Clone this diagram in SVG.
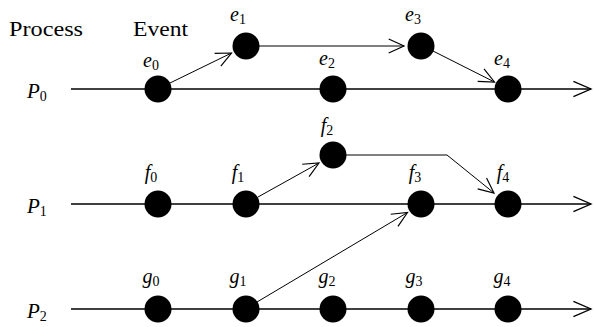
<svg xmlns="http://www.w3.org/2000/svg" width="594" height="327" viewBox="0 0 594 327" font-family="Liberation Serif, Times New Roman, Times, serif">
<style>
  .hdr { font-size: 22px; }
  .lbl { font-size: 20px; text-anchor: middle; }
  .plbl { font-size: 21px; }
  .it { font-style: italic; }
  .sub { font-size: 14px; font-style: normal; }
  .node { fill: #000; }
  .time { stroke: #000; stroke-width: 1.4; fill: none; }
  .msg { stroke: #000; stroke-width: 1; fill: none; marker-end: url(#ah); }
</style>
<defs>
  <marker id="ah" markerUnits="userSpaceOnUse" markerWidth="20" markerHeight="20" viewBox="-15 -8 17 16" refX="0" refY="0" orient="auto" overflow="visible">
    <path d="M-13,-6 L0,0 L-13,6" fill="none" stroke="#000" stroke-width="1"/>
  </marker>
  <marker id="ahBig" markerUnits="userSpaceOnUse" markerWidth="22" markerHeight="20" viewBox="-18 -9 20 18" refX="0" refY="0" orient="auto" overflow="visible">
    <path d="M-16,-7 L0,0 L-16,7" fill="none" stroke="#000" stroke-width="1.2"/>
  </marker>
</defs>
<rect width="594" height="327" fill="#fff"/>

<g id="headers">
  <text class="hdr" x="9" y="36" font-family="Liberation Serif" textLength="74" lengthAdjust="spacingAndGlyphs">Process</text>
  <text class="hdr" x="133" y="36" font-family="Liberation Serif" textLength="55" lengthAdjust="spacingAndGlyphs">Event</text>
</g>

<g id="process-P0">
  <line class="time" x1="71" y1="89" x2="591" y2="89" marker-end="url(#ahBig)"/>
  <text class="plbl" x="27" y="98"><tspan class="it">P</tspan><tspan class="sub" dy="3">0</tspan></text>
</g>
<g id="process-P1">
  <line class="time" x1="71" y1="204" x2="591" y2="204" marker-end="url(#ahBig)"/>
  <text class="plbl" x="27" y="213"><tspan class="it">P</tspan><tspan class="sub" dy="3">1</tspan></text>
</g>
<g id="process-P2">
  <line class="time" x1="71" y1="309" x2="591" y2="309" marker-end="url(#ahBig)"/>
  <text class="plbl" x="27" y="318"><tspan class="it">P</tspan><tspan class="sub" dy="3">2</tspan></text>
</g>

<g id="connectors">
  <line class="msg" x1="170" y1="83" x2="231.5" y2="53"/>
  <line class="msg" x1="259" y1="46" x2="404" y2="46"/>
  <line class="msg" x1="433" y1="51" x2="494.5" y2="82"/>
  <line class="msg" x1="258" y1="197" x2="319" y2="163"/>
  <polyline class="msg" points="346,155 447,155 494,193"/>
  <line class="msg" x1="257" y1="302" x2="407.5" y2="212.5"/>
</g>

<g id="e0"><circle class="node" cx="158" cy="89" r="13.5"/><text class="lbl" x="151" y="67"><tspan class="it">e</tspan><tspan class="sub" dy="3">0</tspan></text></g>
<g id="e1"><circle class="node" cx="246" cy="46" r="13.5"/><text class="lbl" x="238" y="21"><tspan class="it">e</tspan><tspan class="sub" dy="3">1</tspan></text></g>
<g id="e2"><circle class="node" cx="333" cy="89" r="13.5"/><text class="lbl" x="327" y="65"><tspan class="it">e</tspan><tspan class="sub" dy="3">2</tspan></text></g>
<g id="e3"><circle class="node" cx="421" cy="46" r="13.5"/><text class="lbl" x="413" y="21"><tspan class="it">e</tspan><tspan class="sub" dy="3">3</tspan></text></g>
<g id="e4"><circle class="node" cx="508" cy="89" r="13.5"/><text class="lbl" x="502" y="65"><tspan class="it">e</tspan><tspan class="sub" dy="3">4</tspan></text></g>

<g id="f0"><circle class="node" cx="158" cy="204" r="13.5"/><text class="lbl" x="151" y="179"><tspan class="it">f</tspan><tspan class="sub" dy="3">0</tspan></text></g>
<g id="f1"><circle class="node" cx="246" cy="204" r="13.5"/><text class="lbl" x="238" y="179"><tspan class="it">f</tspan><tspan class="sub" dy="3">1</tspan></text></g>
<g id="f2"><circle class="node" cx="333" cy="155" r="13.5"/><text class="lbl" x="327" y="132"><tspan class="it">f</tspan><tspan class="sub" dy="3">2</tspan></text></g>
<g id="f3"><circle class="node" cx="421" cy="204" r="13.5"/><text class="lbl" x="415" y="179"><tspan class="it">f</tspan><tspan class="sub" dy="3">3</tspan></text></g>
<g id="f4"><circle class="node" cx="508" cy="204" r="13.5"/><text class="lbl" x="503" y="179"><tspan class="it">f</tspan><tspan class="sub" dy="3">4</tspan></text></g>

<g id="g0"><circle class="node" cx="158" cy="309" r="13.5"/><text class="lbl" x="151" y="283"><tspan class="it">g</tspan><tspan class="sub" dy="3">0</tspan></text></g>
<g id="g1"><circle class="node" cx="246" cy="309" r="13.5"/><text class="lbl" x="238" y="283"><tspan class="it">g</tspan><tspan class="sub" dy="3">1</tspan></text></g>
<g id="g2"><circle class="node" cx="333" cy="309" r="13.5"/><text class="lbl" x="327" y="283"><tspan class="it">g</tspan><tspan class="sub" dy="3">2</tspan></text></g>
<g id="g3"><circle class="node" cx="421" cy="309" r="13.5"/><text class="lbl" x="414" y="283"><tspan class="it">g</tspan><tspan class="sub" dy="3">3</tspan></text></g>
<g id="g4"><circle class="node" cx="508" cy="309" r="13.5"/><text class="lbl" x="502" y="283"><tspan class="it">g</tspan><tspan class="sub" dy="3">4</tspan></text></g>
</svg>
